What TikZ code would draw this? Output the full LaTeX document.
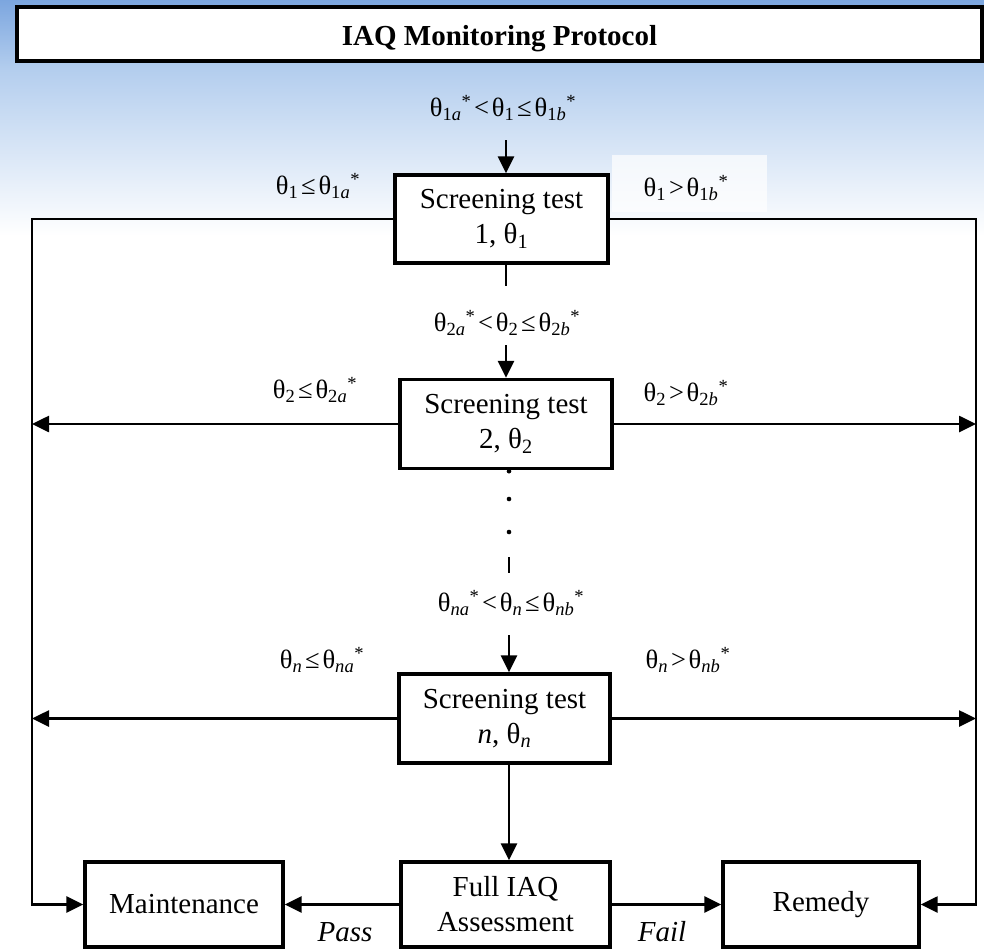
\documentclass[tikz,border=0pt]{standalone}
\usepackage{fontspec}
\setmainfont{Liberation Serif}
\usetikzlibrary{arrows.meta,calc}
\definecolor{bgtop}{RGB}{124,166,223}
\definecolor{bgone}{RGB}{180,206,238}
\definecolor{bgtwo}{RGB}{224,235,248}
\tikzset{
  procbox/.style={draw=black,line width=3.4pt,fill=white,align=center,inner sep=0pt,
    font=\fontsize{29}{35}\selectfont},
  titlebox/.style={draw=black,line width=3.4pt,fill=white,inner sep=0pt,
    font=\fontsize{29}{33}\selectfont\bfseries},
  condlabel/.style={inner sep=0pt,font=\fontsize{26.5}{32}\selectfont},
  passlabel/.style={inner sep=0pt,font=\fontsize{29}{35}\selectfont\itshape},
  conn/.style={draw=black,line width=2.6pt},
  arr/.style={conn,-{Triangle[length=17pt,width=16pt]}},
  dotmark/.style={fill=black,draw=none}
}
\newcommand{\thsub}[1]{θ\textsubscript{#1}}
\newcommand{\rel}[1]{\kern2.8pt#1\kern2.8pt}
\begin{document}
\begin{tikzpicture}[x=1pt,y=-1pt]
\useasboundingbox (0,0) rectangle (984,950);
% background
\fill[white] (0,0) rectangle (984,950);
\shade[top color=bgtop, bottom color=bgone] (0,0) rectangle (984,70);
\shade[top color=bgone, middle color=bgtwo, bottom color=white] (0,70) rectangle (984,236);
\fill[white,opacity=0.7] (612,155) rectangle (767,212);

% title
\node[titlebox,minimum width=965pt,minimum height=54pt] (title) at (499.5,34) {\raisebox{-5pt}[\height][\depth]{IAQ Monitoring Protocol}};

% axis coordinates
\coordinate (L) at (32,0);
\coordinate (R) at (976,0);

% boxes
\node[procbox,minimum width=213pt,minimum height=88pt] (s1) at (501.5,219) {Screening test\\1, \thsub{1}};
\node[procbox,minimum width=212pt,minimum height=89pt] (s2) at (506,424) {Screening test\\2, \thsub{2}};
\node[procbox,minimum width=211pt,minimum height=89pt] (sn) at (504.5,718.5) {Screening test\\\textit{n}, \thsub{\textit{n}}};
\node[procbox,minimum width=209pt,minimum height=85pt] (full) at (505.5,904.5) {Full IAQ\\Assessment};
\node[procbox,minimum width=198pt,minimum height=85pt] (maint) at (184,904.5) {Maintenance};
\node[procbox,minimum width=196pt,minimum height=85pt] (rem) at (821,904.5) {Remedy};

% condition labels
\node[condlabel] (t1) at (503,108) {\thsub{1\textit{a}}\textsuperscript{*}\rel{<}\thsub{1}\rel{≤}\thsub{1\textit{b}}\textsuperscript{*}};
\node[condlabel] (t2) at (507,323) {\thsub{2\textit{a}}\textsuperscript{*}\rel{<}\thsub{2}\rel{≤}\thsub{2\textit{b}}\textsuperscript{*}};
\node[condlabel] (tn) at (511,603) {\thsub{\textit{na}}\textsuperscript{*}\rel{<}\thsub{\textit{n}}\rel{≤}\thsub{\textit{nb}}\textsuperscript{*}};
\node[condlabel] (l1) at (318,186) {\thsub{1}\rel{≤}\thsub{1\textit{a}}\textsuperscript{*}};
\node[condlabel] (r1) at (686,188) {\thsub{1}\rel{>}\thsub{1\textit{b}}\textsuperscript{*}};
\node[condlabel] (l2) at (315,390) {\thsub{2}\rel{≤}\thsub{2\textit{a}}\textsuperscript{*}};
\node[condlabel] (r2) at (686,393) {\thsub{2}\rel{>}\thsub{2\textit{b}}\textsuperscript{*}};
\node[condlabel] (ln) at (322,660) {\thsub{\textit{n}}\rel{≤}\thsub{\textit{na}}\textsuperscript{*}};
\node[condlabel] (rn) at (688,660) {\thsub{\textit{n}}\rel{>}\thsub{\textit{nb}}\textsuperscript{*}};
\node[passlabel] (pass) at (345,932) {Pass};
\node[passlabel] (fail) at (662,932) {Fail};

% vertical flow
\coordinate (a1) at (506,140);
\coordinate (a2) at (506,345);
\coordinate (an) at (509,635);
\coordinate (st1) at (506,286);
\coordinate (dash1) at (509,557);
\coordinate (dash2) at (509,573);
\draw[arr] (a1) -- (a1 |- s1.north);
\draw[conn] (a1 |- s1.south) -- (st1);
\draw[arr] (a2) -- (a2 |- s2.north);
\fill[dotmark] (an |- s2.south) ++(0,1) circle (2.3pt);
\fill[dotmark] (509,499) circle (2.3pt);
\fill[dotmark] (509,532) circle (2.3pt);
\draw[conn] (dash1) -- (dash2);
\draw[arr] (an) -- (an |- sn.north);
\draw[arr] (an |- sn.south) -- (an |- full.north);

% branches
\draw[arr] (s1.west) -- (s1.west -| L) |- (maint.west);
\draw[arr] (s1.east) -- (s1.east -| R) |- (rem.east);
\draw[arr] (s2.west) -- (s2.west -| L);
\draw[arr] (s2.east) -- (s2.east -| R);
\draw[arr] (sn.west) -- (sn.west -| L);
\draw[arr] (sn.east) -- (sn.east -| R);
\draw[arr] (full.west) -- (maint.east);
\draw[arr] (full.east) -- (rem.west);
\end{tikzpicture}
\end{document}
